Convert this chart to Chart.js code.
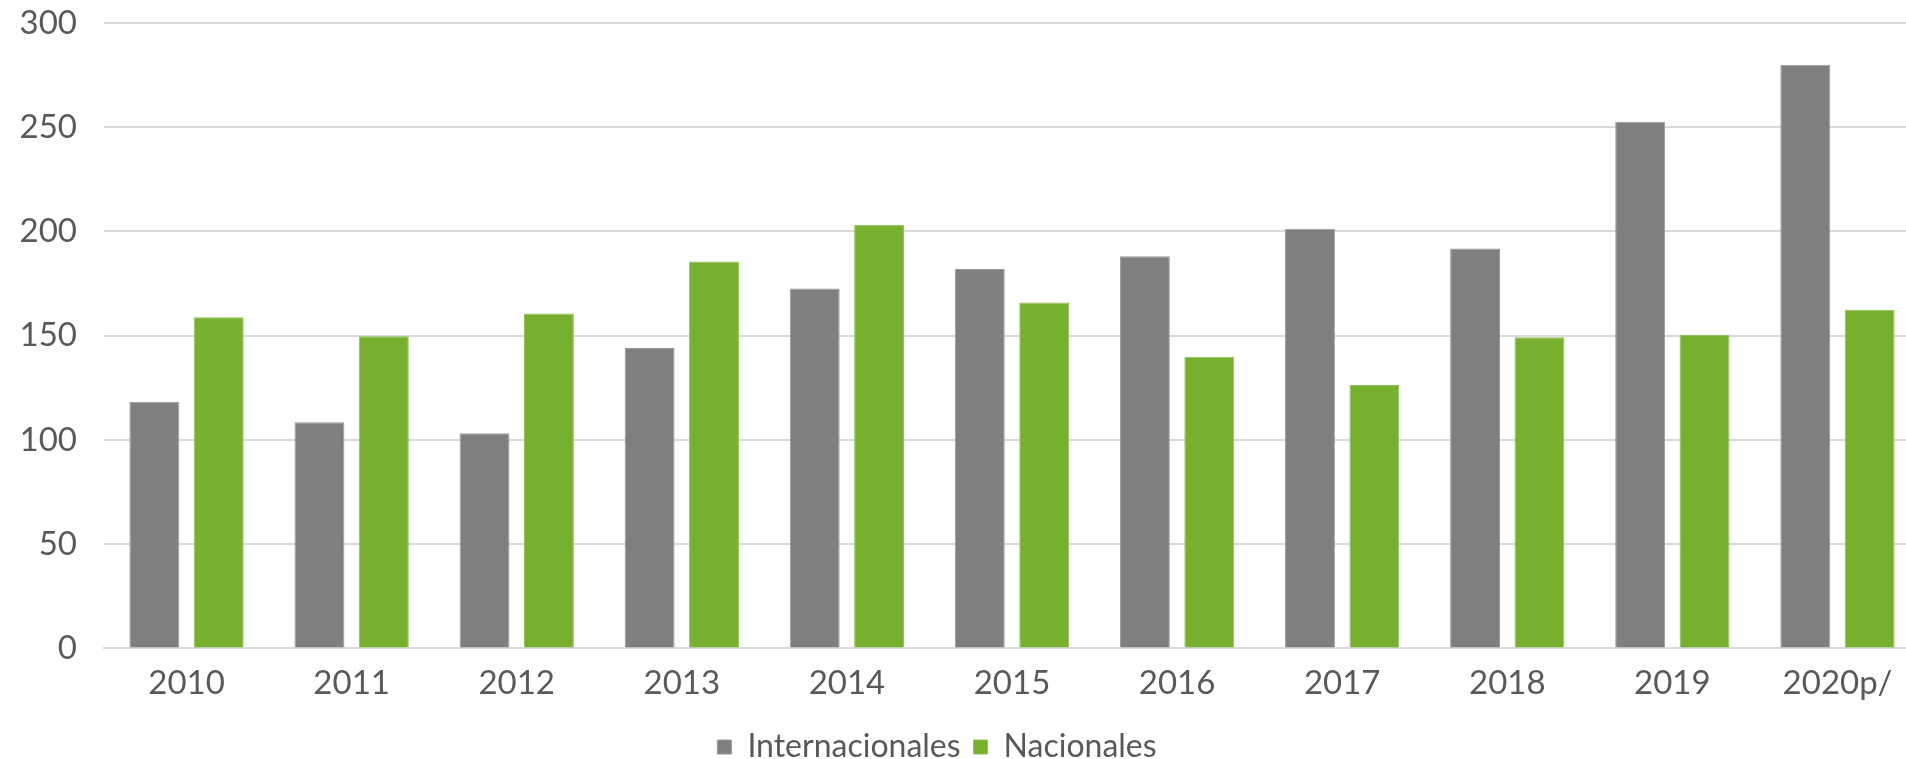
<!DOCTYPE html>
<html>
<head>
<meta charset="utf-8">
<script src="https://cdn.jsdelivr.net/npm/chart.js@4"></script>
<style>
  html, body { margin: 0; padding: 0; background: #ffffff; overflow: hidden; }
  #grafico { display: block; }
</style>
</head>
<body>
<canvas id="grafico" width="1920" height="759"></canvas>
<script>
// datos
const anios = ['2010', '2011', '2012', '2013', '2014', '2015', '2016', '2017', '2018', '2019', '2020p/'];
const internacionales = [118.3, 108.5, 103.2, 144.1, 172.7, 182.0, 188.1, 201.3, 191.8, 252.6, 280.0];
const nacionales = [158.8, 149.7, 160.6, 185.6, 203.2, 165.9, 139.9, 126.3, 149.2, 150.5, 162.5];
const ticksY = [0, 50, 100, 150, 200, 250, 300];

const colorTexto = '#595959';
const fuente = { family: 'Lato', size: 32 };
const fuenteTicks = { family: 'Lato', size: 33 };

// ajuste fino: leyenda un poco a la izquierda, como en el original
const ajustes = {
    id: 'ajustes',
    afterLayout(chart) {
        const d = -23;
        chart.legend.left += d;
        chart.legend.right += d;
    }
};

const ctx = document.getElementById('grafico').getContext('2d');

new Chart(ctx, {
    type: 'bar',
    data: {
        labels: anios,
        datasets: [
            {
                label: 'Internacionales',
                data: internacionales,
                backgroundColor: '#7f7f7f',
                borderColor: '#9a9a9a',
                borderWidth: 1
            },
            {
                label: 'Nacionales',
                data: nacionales,
                backgroundColor: '#77af2e',
                borderColor: '#8fc255',
                borderWidth: 1
            }
        ]
    },
    options: {
        responsive: false,
        maintainAspectRatio: false,
        animation: false,
        devicePixelRatio: 1,
        categoryPercentage: 0.78,
        barPercentage: 0.775,
        layout: { padding: { top: 23, left: 0, right: 0, bottom: -14 } },
        plugins: {
            legend: {
                position: 'bottom',
                labels: {
                    boxWidth: 14,
                    boxHeight: 14,
                    padding: 13,
                    color: colorTexto,
                    font: fuente
                }
            },
            tooltip: { enabled: false }
        },
        scales: {
            x: {
                grid: { display: false, drawTicks: false },
                border: { color: '#d9d9d9', width: 2 },
                ticks: { color: colorTexto, font: fuenteTicks, padding: 15, maxRotation: 0, autoSkip: false }
            },
            y: {
                min: 0,
                max: 300,
                afterBuildTicks(scale) {
                    scale.ticks = ticksY.map(v => ({ value: v }));
                },
                afterFit(scale) {
                    scale.width = 104;
                    scale.paddingTop = 0;
                    scale.paddingBottom = 0;
                },
                grid: { color: '#d9d9d9', lineWidth: 2, drawTicks: false },
                border: { display: false },
                ticks: { color: colorTexto, font: fuenteTicks, padding: 27 }
            }
        }
    },
    plugins: [ajustes]
});
</script>
</body>
</html>
